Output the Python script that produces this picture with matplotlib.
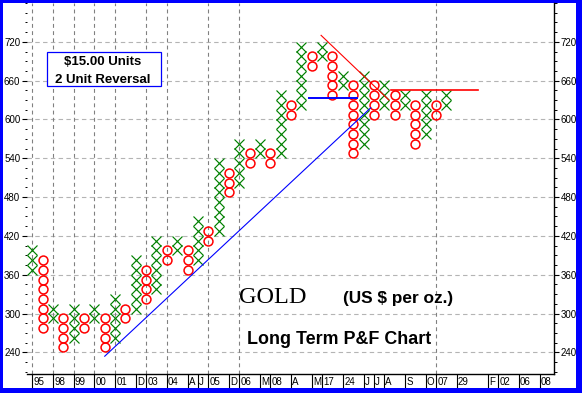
import matplotlib
matplotlib.use('Agg')
import matplotlib.pyplot as plt
import numpy as np
from matplotlib.patches import Rectangle
from matplotlib.ticker import MultipleLocator

W, H = 582, 393
BOX = 15

# ---- P&F columns (box bottom of lowest box, top of highest box) ----
col_types = list("XOXOXOXOXOXOXOXOXOXOXOXOXOXOXOXOXOXOXOXOX")
col_low = [360, 270, 285, 240, 255, 270, 285, 240, 255, 285,
           300, 315, 330, 375, 390, 360, 375, 405, 420, 480,
           495, 525, 540, 525, 540, 600, 615, 675, 690, 630,
           645, 540, 555, 600, 615, 600, 615, 555, 570, 600, 615]
col_high = [405, 390, 315, 300, 315, 300, 315, 300, 330, 315,
            390, 375, 420, 405, 420, 405, 450, 435, 540, 525,
            570, 555, 570, 555, 645, 630, 720, 705, 720, 705,
            675, 660, 675, 660, 660, 645, 645, 630, 645, 630, 645]

# ---- date axis ----
date_cols = [0, 2, 4, 6, 8, 10, 11, 13, 15, 16, 17, 19, 20, 22, 23,
             25, 27, 28, 30, 32, 33, 34, 36, 38, 39, 41, 44, 45, 47, 49]
date_text = ["95", "98", "99", "00", "01", "D", "03", "04", "A", "J",
             "05", "D", "06", "M", "08", "A", "M", "17", "24", "J",
             "J", "A", "S", "O", "07", "29", "F", "02", "06", "08"]
year_cols = [0, 2, 4, 6, 8, 11, 13, 17, 20, 39]

# ---- trend lines (column, price) ----
support_cols = [7.0, 32.7]
support_vals = [234, 618]
blue_h_cols = [26.73, 31.37]
blue_h_vals = [633, 633]
resist_cols = [27.9, 34.45]
resist_vals = [730, 630]
red_h_cols = [34.66, 43.03]
red_h_vals = [645.5, 645.5]

y_major = list(range(240, 721, 60))

GREEN = '#008000'
RED = '#ff0000'
BLUE = '#0000ff'
FONT = 'Liberation Sans'

fig = plt.figure(figsize=(W / 100, H / 100), dpi=100)
fig.patch.set_facecolor(BLUE)
fig.patches.append(Rectangle((3 / W, 5 / H), 573 / W, 385 / H, transform=fig.transFigure,
                             facecolor='white', edgecolor='none', zorder=-10))

ax = fig.add_axes([27 / W, 1 - 374 / H, 527 / W, 371 / H])
ax.set_facecolor('none')
ax.set_xlim(-0.51, 50.4)
ax.set_ylim(206.5, 780)

for s in ['left', 'top', 'bottom']:
    ax.spines[s].set_visible(False)
ax.spines['right'].set_color('black')
ax.spines['right'].set_linewidth(1)

ax.set_xticks([])
ax.yaxis.set_major_locator(MultipleLocator(60))
ax.yaxis.set_minor_locator(MultipleLocator(15))
ax.set_yticks(y_major)
ax.tick_params(axis='y', which='major', left=True, right=True, labelleft=True, labelright=True,
               direction='out', length=3.6, width=0.8, pad=1.2, labelsize=7)
ax.tick_params(axis='y', which='minor', left=True, right=True, direction='out',
               length=1.8, width=0.7)
for lab in ax.get_yticklabels():
    lab.set_fontfamily(FONT)

# grid
for v in y_major:
    ax.axhline(v, color='#b4b4b4', lw=0.8, ls=(0, (4, 3)), zorder=1)
for c in year_cols:
    ax.axvline(c, color='#808080', lw=0.8, ls=(0, (3.5, 3)), zorder=1)

# P&F marks
for i, (t, lo, hi) in enumerate(zip(col_types, col_low, col_high)):
    vals = np.arange(lo + BOX / 2, hi, BOX)
    xs = np.full(len(vals), i)
    if t == 'X':
        ax.plot(xs, vals, ls='none', marker='x', ms=7.5, mew=0.85, color=GREEN, zorder=3)
    else:
        ax.plot(xs, vals, ls='none', marker='o', ms=6.4, mfc='none', mec=RED, mew=1.1, zorder=3)

# trend lines
ax.plot(support_cols, support_vals, color=BLUE, lw=0.8, zorder=4)
ax.plot(blue_h_cols, blue_h_vals, color=BLUE, lw=1.4, zorder=4)
ax.plot(resist_cols, resist_vals, color=RED, lw=0.8, zorder=4)
ax.plot(red_h_cols, red_h_vals, color=RED, lw=1.2, zorder=4)

# info box
ax.add_patch(Rectangle((47.3 / W, 1 - 86 / H), 113.4 / W, 34.3 / H, transform=fig.transFigure,
                       facecolor='white', edgecolor=BLUE, lw=0.9, zorder=5))
ax.text(103 / W, 1 - 65 / H, "$15.00 Units", transform=fig.transFigure, ha='center',
        va='baseline', fontsize=9.5, fontweight='bold', family=FONT, zorder=6)
ax.text(103 / W, 1 - 83.3 / H, "2 Unit Reversal", transform=fig.transFigure, ha='center',
        va='baseline', fontsize=9.5, fontweight='bold', family=FONT, zorder=6)

# titles
fig.text(273 / W, 1 - 303.3 / H, "GOLD", ha='center', va='baseline', fontsize=17.5,
         family='Liberation Serif')
fig.text(398.3 / W, 1 - 303.3 / H, "(US $ per oz.)", ha='center', va='baseline', fontsize=12.4,
         fontweight='bold', family=FONT)
fig.text(339.2 / W, 1 - 344 / H, "Long Term P&F Chart", ha='center', va='baseline', fontsize=12.9,
         fontweight='bold', family=FONT)

# date axis band
dax = fig.add_axes([27 / W, 1 - 388 / H, 527 / W, 14 / H])
dax.set_facecolor('none')
dax.set_xlim(-0.51, 50.4)
dax.set_ylim(0, 1)
dax.set_xticks([])
dax.set_yticks([])
for s in ['left', 'bottom', 'right']:
    dax.spines[s].set_visible(False)
dax.spines['top'].set_linewidth(1)
for c, t in zip(date_cols, date_text):
    dax.plot([c, c], [0, 1], color='black', lw=0.8)
    dax.text(c + 0.12, 0.45, t, ha='left', va='center', fontsize=7, family=FONT)

fig.savefig('out.png', dpi=100, facecolor=fig.get_facecolor())
